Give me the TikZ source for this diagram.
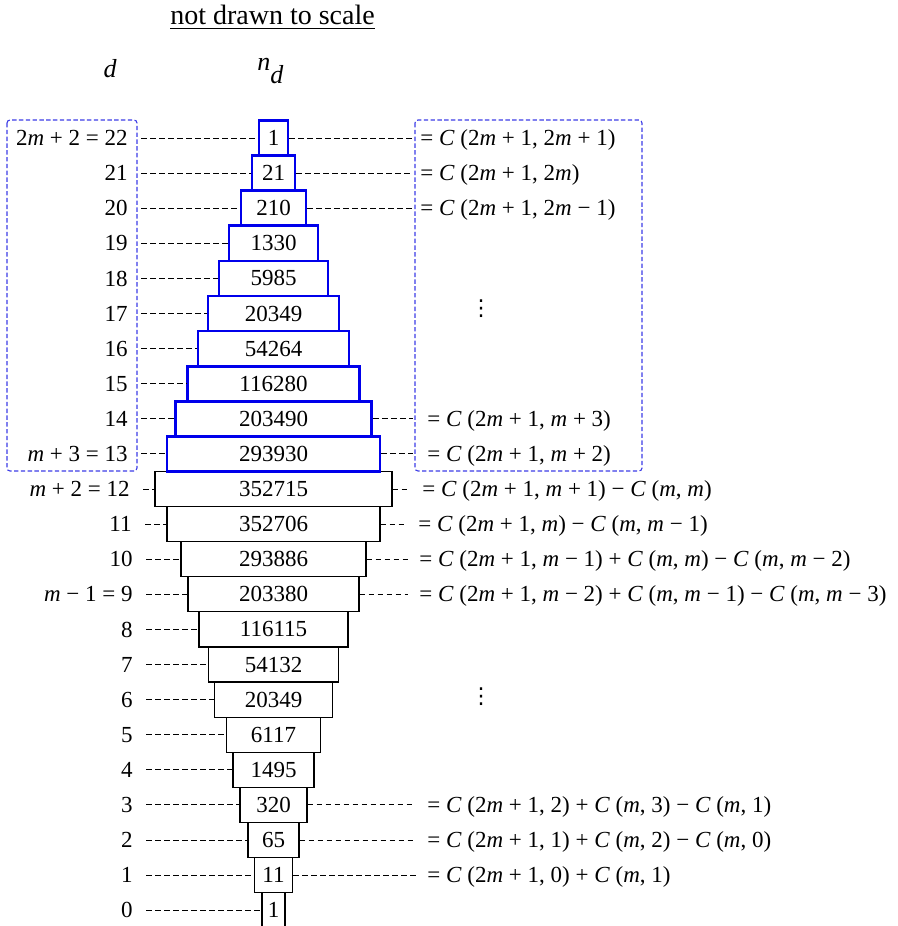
\documentclass[tikz,border=0pt]{standalone}
\usepackage{fontspec}
\setmainfont{Liberation Serif}
\newfontfamily\symfont{DejaVu Sans}
\usepackage{tikz}
\usetikzlibrary{calc}
\definecolor{hiblue}{RGB}{0, 0, 235}
\definecolor{grpblue}{RGB}{60, 60, 230}

\newcommand{\mvar}{\textit{m}}
\newcommand{\Cof}[2]{\textit{C} (#1, #2)}

\tikzset{
    cellbox/.style={draw=black, line width=0.6pt, minimum height=17.55pt, inner sep=0pt},
    cellhi/.style={cellbox, draw=hiblue, line width=1.35pt},
    leader/.style={dash pattern=on 2.9pt off 1.6pt, line width=0.5pt},
    grpbox/.style={draw=grpblue, dash pattern=on 2.2pt off 1.2pt, line width=0.55pt, rounded corners=1.5pt},
}

\begin{document}
\begin{tikzpicture}[x=0.5pt, y=-0.5pt, font=\fontsize{11.5}{14}\selectfont]
    \useasboundingbox (0,0) rectangle (898,926);

    % headings
    \node[anchor=base, font=\fontsize{14}{16}\selectfont] (title) at (272.5,25) {\underline{not drawn to scale}};
    \node[anchor=base, font=\fontsize{13}{15}\selectfont\itshape] (hd) at (110,77) {d};
    \node[anchor=base west, inner sep=0pt, font=\fontsize{13}{15}\selectfont\itshape] (hnd) at (257,70) {n\raisebox{-6.5pt}{d}};

    % groups of the upper rows
    \draw[grpbox] (7,120) rectangle (137,471);
    \draw[grpbox] (415,120) rectangle (642,471);

    % n_d cells, lower rows first
    \foreach \d/\v/\w in {12/352715/237, 11/352706/213, 10/293886/185, 9/203380/171, 8/116115/149,
                          7/54132/130, 6/20349/118, 5/6117/94, 4/1495/81, 3/320/67, 2/65/51, 1/11/38, 0/1/23}
        \node[cellbox, minimum width=\w*0.5pt] (n\d) at (273.5,{138+(22-\d)*35.1}) {\v};
    \foreach \d/\v/\w in {22/1/29, 21/21/43, 20/210/65, 19/1330/89, 18/5985/109, 17/20349/131,
                          16/54264/151, 15/116280/172, 14/203490/196, 13/293930/213}
        \node[cellhi, minimum width=\w*0.5pt] (n\d) at (273.5,{138+(22-\d)*35.1}) {\v};

    % d labels
    \foreach \d/\lab/\lx in {22/{2\mvar{} + 2 = 22}/128, 21/21/128, 20/20/128, 19/19/128, 18/18/128,
                             17/17/128, 16/16/128, 15/15/128, 14/14/128, 13/{\mvar{} + 3 = 13}/128,
                             12/{\mvar{} + 2 = 12}/130, 11/11/132, 10/10/133, 9/{\mvar{} − 1 = 9}/133,
                             8/8/133, 7/7/133, 6/6/133, 5/5/133, 4/4/133, 3/3/133, 2/2/133, 1/1/133, 0/0/133}
    {
        \node[anchor=base east, inner sep=0pt] (l\d) at (\lx,{145.6+(22-\d)*35.1}) {\lab};
        \draw[leader] ([xshift=6.5pt]l\d.east |- n\d.west) -- (n\d.west);
    }

    % formulas
    \foreach \d/\txt/\rx/\g in {22/{= \Cof{2\mvar{} + 1}{2\mvar{} + 1}}/420/3.5pt,
                                21/{= \Cof{2\mvar{} + 1}{2\mvar}}/420/3.5pt,
                                20/{= \Cof{2\mvar{} + 1}{2\mvar{} − 1}}/420/3.5pt,
                                14/{= \Cof{2\mvar{} + 1}{\mvar{} + 3}}/427/7pt,
                                13/{= \Cof{2\mvar{} + 1}{\mvar{} + 2}}/427/7pt,
                                12/{= \Cof{2\mvar{} + 1}{\mvar{} + 1} − \Cof{\mvar}{\mvar}}/422/7pt,
                                11/{= \Cof{2\mvar{} + 1}{\mvar} − \Cof{\mvar}{\mvar{} − 1}}/418/5.5pt,
                                10/{= \Cof{2\mvar{} + 1}{\mvar{} − 1} + \Cof{\mvar}{\mvar} − \Cof{\mvar}{\mvar{} − 2}}/419/5.5pt,
                                9/{= \Cof{2\mvar{} + 1}{\mvar{} − 2} + \Cof{\mvar}{\mvar{} − 1} − \Cof{\mvar}{\mvar{} − 3}}/419/5.5pt,
                                3/{= \Cof{2\mvar{} + 1}{2} + \Cof{\mvar}{3} − \Cof{\mvar}{1}}/427/7pt,
                                2/{= \Cof{2\mvar{} + 1}{1} + \Cof{\mvar}{2} − \Cof{\mvar}{0}}/427/7pt,
                                1/{= \Cof{2\mvar{} + 1}{0} + \Cof{\mvar}{1}}/427/5pt}
    {
        \node[anchor=base west, inner sep=0pt] (r\d) at (\rx,{145.6+(22-\d)*35.1}) {\txt};
        \draw[leader] (n\d.east) -- ([xshift=-\g]r\d.west |- n\d.east);
    }

    % skipped rows
    \node[font=\fontsize{11}{13}\symfont] (skipA) at (481,309) {⋮};
    \node[font=\fontsize{11}{13}\symfont] (skipB) at (481,697) {⋮};
\end{tikzpicture}
\end{document}
